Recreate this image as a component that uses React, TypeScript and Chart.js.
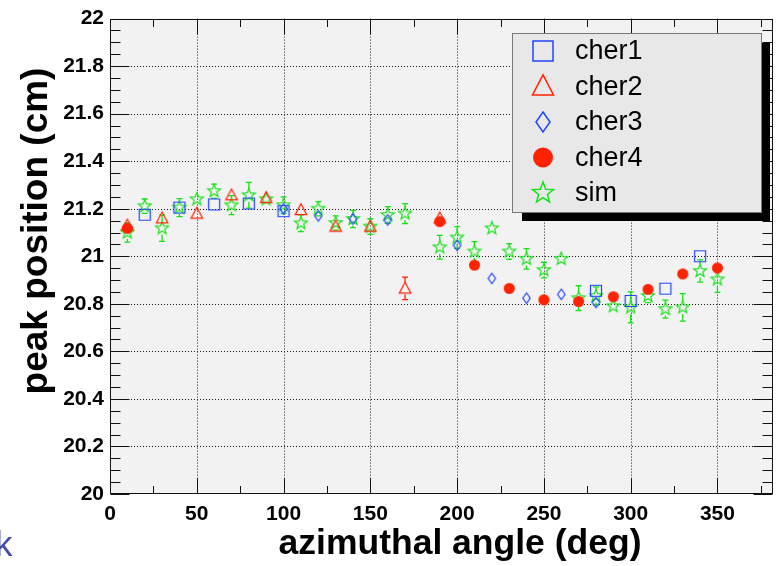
import React, { useEffect, useRef } from "react";
import { Chart, registerables } from "chart.js";

Chart.register(...registerables);

const FONT = '"Liberation Sans", Arial, Helvetica, sans-serif';

// Peak position (cm) against azimuthal angle (deg) for each counter.
const cher1Angles = [20, 40, 60, 80, 100, 280, 300, 320, 340];
const cher1Peaks = [21.175, 21.205, 21.218, 21.222, 21.19, 20.855, 20.812, 20.864, 21.0];

const cher2Angles = [10, 30, 50, 70, 90, 110, 130, 150, 170, 190];
const cher2Peaks = [21.13, 21.16, 21.18, 21.257, 21.246, 21.195, 21.125, 21.125, 20.865, 21.16];
const cher2Errors = [0, 0, 0, 0, 0, 0, 0, 0, 0.047, 0];

const cher3Angles = [100, 120, 140, 160, 200, 220, 240, 260, 280];
const cher3Peaks = [21.2, 21.17, 21.157, 21.153, 21.046, 20.907, 20.824, 20.84, 20.806];

const cher4Angles = [10, 190, 210, 230, 250, 270, 290, 310, 330, 350];
const cher4Peaks = [21.118, 21.146, 20.963, 20.865, 20.817, 20.81, 20.83, 20.861, 20.926, 20.951];

const simAngles = [
  10, 20, 30, 40, 50, 60, 70, 80, 90, 100, 110, 120, 130, 140, 150, 160, 170,
  190, 200, 210, 220, 230, 240, 250, 260, 270, 280, 290, 300, 310, 320, 330, 340, 350,
];
const simPeaks = [
  21.1, 21.211, 21.118, 21.205, 21.24, 21.274, 21.215, 21.257, 21.24, 21.215, 21.139, 21.2,
  21.14, 21.157, 21.125, 21.174, 21.18, 21.038, 21.079, 21.02, 21.118, 21.02, 20.989, 20.942,
  20.989, 20.824, 20.833, 20.79, 20.785, 20.833, 20.778, 20.785, 20.938, 20.903,
];
const simErrors = [
  0.04, 0.03, 0.055, 0.038, 0.025, 0.03, 0.04, 0.054, 0.012, 0.035, 0.035, 0.03, 0.03, 0.036,
  0.033, 0.035, 0.042, 0.05, 0.046, 0.042, 0.02, 0.033, 0.043, 0.033, 0.025, 0.052, 0.038,
  0.023, 0.065, 0.028, 0.038, 0.058, 0.047, 0.055,
];

const seriesNames = ["cher1", "cher2", "cher3", "cher4", "sim"];

// Axis ranges and tick spacing
const angleMin = 0;
const angleMax = 382;
const angleMajor = 50;
const angleMinor = 25;
const peakMin = 20;
const peakMax = 22;
const peakMajor = 0.2;
const peakMinor = 0.05;

const xTitle = "azimuthal angle (deg)";
const yTitle = "peak position (cm)";
const cornerText = "k";

const BLUE = "#2244ff";
const RED = "#ff2200";
const GREEN = "#18e018";

type Kind = "square" | "triangle" | "diamond" | "circle" | "star";

function tracePath(ctx: CanvasRenderingContext2D, kind: Kind, cx: number, cy: number, s: number) {
  ctx.beginPath();
  if (kind === "square") {
    ctx.rect(cx - s / 2, cy - s / 2, s, s);
  } else if (kind === "triangle") {
    ctx.moveTo(cx, cy - 0.55 * s);
    ctx.lineTo(cx + 0.5 * s, cy + 0.4 * s);
    ctx.lineTo(cx - 0.5 * s, cy + 0.4 * s);
    ctx.closePath();
  } else if (kind === "diamond") {
    ctx.moveTo(cx, cy - s / 2);
    ctx.lineTo(cx + 0.35 * s, cy);
    ctx.lineTo(cx, cy + s / 2);
    ctx.lineTo(cx - 0.35 * s, cy);
    ctx.closePath();
  } else if (kind === "circle") {
    ctx.arc(cx, cy, s / 2, 0, Math.PI * 2);
  } else {
    const R = s / 2;
    const r = R * 0.42;
    for (let i = 0; i < 10; i++) {
      const a = -Math.PI / 2 + (i * Math.PI) / 5;
      const rr = i % 2 === 0 ? R : r;
      const px = cx + rr * Math.cos(a);
      const py = cy + rr * Math.sin(a);
      if (i === 0) ctx.moveTo(px, py);
      else ctx.lineTo(px, py);
    }
    ctx.closePath();
  }
}

function paintMarker(ctx: CanvasRenderingContext2D, kind: Kind, cx: number, cy: number, s: number, color: string, lw: number) {
  ctx.save();
  tracePath(ctx, kind, cx, cy, s);
  if (kind === "circle") {
    ctx.fillStyle = color;
    ctx.fill();
  } else {
    ctx.strokeStyle = color;
    ctx.lineWidth = lw;
    ctx.stroke();
  }
  ctx.restore();
}

function makeMarker(kind: Kind, s: number, color: string, lw: number): HTMLCanvasElement {
  const n = Math.ceil(s + lw * 2 + 4);
  const c = document.createElement("canvas");
  c.width = n;
  c.height = n;
  const ctx = c.getContext("2d")!;
  paintMarker(ctx, kind, n / 2, n / 2, s, color, lw);
  return c;
}

const framePlugin = {
  id: "rootFrame",
  beforeDraw(chart: any) {
    const { ctx, chartArea: a, width, height } = chart;
    ctx.save();
    ctx.fillStyle = "#ffffff";
    ctx.fillRect(0, 0, width, height);
    ctx.fillStyle = "#f2f2f2";
    ctx.fillRect(a.left, a.top, a.right - a.left, a.bottom - a.top);
    ctx.restore();
  },
  beforeDatasetsDraw(chart: any) {
    const { ctx, chartArea: a, scales } = chart;
    const xs = scales.x;
    const ys = scales.y;
    ctx.save();
    // dotted grid at major ticks
    ctx.strokeStyle = "#1a1a1a";
    ctx.lineWidth = 1;
    ctx.setLineDash([1, 2]);
    for (let v = angleMin + angleMajor; v < angleMax; v += angleMajor) {
      const px = Math.round(xs.getPixelForValue(v)) + 0.5;
      ctx.beginPath();
      ctx.moveTo(px, a.top);
      ctx.lineTo(px, a.bottom);
      ctx.stroke();
    }
    for (let k = 1; peakMin + k * peakMajor < peakMax - 1e-9; k++) {
      const py = Math.round(ys.getPixelForValue(peakMin + k * peakMajor)) + 0.5;
      ctx.beginPath();
      ctx.moveTo(a.left, py);
      ctx.lineTo(a.right, py);
      ctx.stroke();
    }
    ctx.setLineDash([]);

    // error bars, drawn outside each marker
    chart.data.datasets.forEach((ds: any) => {
      const errs: number[] | undefined = ds.errors;
      if (!errs) return;
      ctx.strokeStyle = ds.errColor;
      ctx.lineWidth = 1.3;
      const gap = ds.errGap;
      const cap = 3;
      ds.data.forEach((p: any, i: number) => {
        const e = errs[i];
        if (!e) return;
        const x = xs.getPixelForValue(p.x);
        const yc = ys.getPixelForValue(p.y);
        const yt = ys.getPixelForValue(p.y + e);
        const yb = ys.getPixelForValue(p.y - e);
        if (yc - yt > gap) {
          ctx.beginPath();
          ctx.moveTo(x, yt);
          ctx.lineTo(x, yc - gap);
          ctx.moveTo(x - cap, yt);
          ctx.lineTo(x + cap, yt);
          ctx.stroke();
        }
        if (yb - yc > gap) {
          ctx.beginPath();
          ctx.moveTo(x, yc + gap);
          ctx.lineTo(x, yb);
          ctx.moveTo(x - cap, yb);
          ctx.lineTo(x + cap, yb);
          ctx.stroke();
        }
      });
    });
    ctx.restore();
  },
  afterDraw(chart: any) {
    const { ctx, chartArea: a, scales } = chart;
    const xs = scales.x;
    const ys = scales.y;
    ctx.save();

    // frame
    ctx.strokeStyle = "#111";
    ctx.lineWidth = 1;
    const L = Math.round(a.left) + 0.5;
    const T = Math.round(a.top) + 0.5;
    const Rr = Math.round(a.right) - 0.5;
    const B = Math.round(a.bottom) - 0.5;
    ctx.strokeRect(L, T, Rr - L, B - T);

    // inward ticks on all four sides
    ctx.beginPath();
    for (let v = angleMin; v <= angleMax; v += angleMinor) {
      const px = Math.round(xs.getPixelForValue(v)) + 0.5;
      const len = v % angleMajor === 0 ? 15 : 7.5;
      ctx.moveTo(px, B);
      ctx.lineTo(px, B - len);
      ctx.moveTo(px, T);
      ctx.lineTo(px, T + len);
    }
    const nMinor = Math.round((peakMax - peakMin) / peakMinor);
    const perMajor = Math.round(peakMajor / peakMinor);
    for (let k = 0; k <= nMinor; k++) {
      const py = Math.round(ys.getPixelForValue(peakMin + k * peakMinor)) + 0.5;
      const len = k % perMajor === 0 ? 19 : 10;
      ctx.moveTo(L, py);
      ctx.lineTo(L + len, py);
      ctx.moveTo(Rr, py);
      ctx.lineTo(Rr - len, py);
    }
    ctx.stroke();

    // axis titles
    ctx.fillStyle = "#000";
    ctx.font = `bold 35.5px ${FONT}`;
    ctx.textAlign = "center";
    ctx.textBaseline = "alphabetic";
    ctx.fillText(xTitle, 460, 554);
    ctx.save();
    ctx.font = `bold 37px ${FONT}`;
    ctx.translate(47, 231);
    ctx.rotate(-Math.PI / 2);
    ctx.fillText(yTitle, 0, 0);
    ctx.restore();

    // legend box with shadow
    const lx = 512, ly = 33, lw = 250, lh = 180;
    ctx.fillStyle = "#000";
    ctx.fillRect(lx + 10, ly + 10, lw - 2, lh - 2);
    ctx.fillStyle = "#e8e8e8";
    ctx.fillRect(lx, ly, lw, lh);
    ctx.strokeStyle = "#777";
    ctx.lineWidth = 1;
    ctx.strokeRect(lx + 0.5, ly + 0.5, lw - 1, lh - 1);
    const kinds: Kind[] = ["square", "triangle", "diamond", "circle", "star"];
    const colors = [BLUE, RED, BLUE, RED, GREEN];
    const sizes = [20, 21, 20, 20, 22];
    ctx.font = `27px ${FONT}`;
    ctx.textAlign = "left";
    ctx.textBaseline = "middle";
    seriesNames.forEach((name, i) => {
      const cy = 51 + i * 35.5;
      paintMarker(ctx, kinds[i], 543, cy, sizes[i], colors[i], 1.5);
      ctx.fillStyle = "#000";
      ctx.fillText(name, 575, cy + 1);
    });

    // stray corner text
    ctx.fillStyle = "#4848b4";
    ctx.font = `35px ${FONT}`;
    ctx.textAlign = "left";
    ctx.textBaseline = "alphabetic";
    ctx.fillText(cornerText, -5, 556);

    ctx.restore();
  },
};

function points(xs: number[], ys: number[]) {
  return xs.map((x, i) => ({ x, y: ys[i] }));
}

export default function App() {
  const ref = useRef<HTMLCanvasElement>(null);

  useEffect(() => {
    const canvas = ref.current;
    if (!canvas) return;

    const square = makeMarker("square", 11, BLUE, 1.2);
    const triangle = makeMarker("triangle", 11.5, RED, 1.2);
    const diamond = makeMarker("diamond", 10.5, BLUE, 1.2);
    const circle = makeMarker("circle", 11, RED, 1);
    const star = makeMarker("star", 13.5, GREEN, 1.2);

    const tickFont = { family: FONT, size: 21, weight: "bold" as const };

    const chart = new Chart(canvas, {
      type: "scatter",
      data: {
        datasets: [
          { label: seriesNames[0], data: points(cher1Angles, cher1Peaks), pointStyle: square, order: 4 } as any,
          {
            label: seriesNames[1],
            data: points(cher2Angles, cher2Peaks),
            pointStyle: triangle,
            order: 3,
            errors: cher2Errors,
            errColor: RED,
            errGap: 6,
          } as any,
          { label: seriesNames[2], data: points(cher3Angles, cher3Peaks), pointStyle: diamond, order: 2 } as any,
          { label: seriesNames[3], data: points(cher4Angles, cher4Peaks), pointStyle: circle, order: 1 } as any,
          {
            label: seriesNames[4],
            data: points(simAngles, simPeaks),
            pointStyle: star,
            order: 5,
            errors: simErrors,
            errColor: GREEN,
            errGap: 6.5,
          } as any,
        ],
      },
      options: {
        responsive: false,
        animation: false,
        devicePixelRatio: 1,
        events: [],
        layout: { padding: { top: 15, right: 5, left: 0, bottom: 0 } },
        plugins: { legend: { display: false }, tooltip: { enabled: false } },
        scales: {
          x: {
            type: "linear",
            min: angleMin,
            max: angleMax,
            afterFit: (s: any) => {
              s.height = 72;
            },
            grid: { display: false, drawTicks: false },
            border: { display: false },
            ticks: {
              stepSize: angleMajor,
              includeBounds: false,
              padding: 8,
              maxRotation: 0,
              color: "#000",
              font: tickFont,
            },
          },
          y: {
            type: "linear",
            min: peakMin,
            max: peakMax,
            afterFit: (s: any) => {
              s.width = 110;
            },
            grid: { display: false, drawTicks: false },
            border: { display: false },
            ticks: {
              stepSize: peakMajor,
              padding: 6,
              color: "#000",
              font: tickFont,
              callback: (v: any) => String(Number(Number(v).toFixed(1))),
            },
          },
        },
      },
      plugins: [framePlugin],
    });

    return () => chart.destroy();
  }, []);

  return (
    <div style={{ position: "absolute", left: 0, top: 0, width: 778, height: 566, background: "#fff" }}>
      <canvas ref={ref} width={778} height={566} style={{ display: "block", width: 778, height: 566 }} />
    </div>
  );
}
